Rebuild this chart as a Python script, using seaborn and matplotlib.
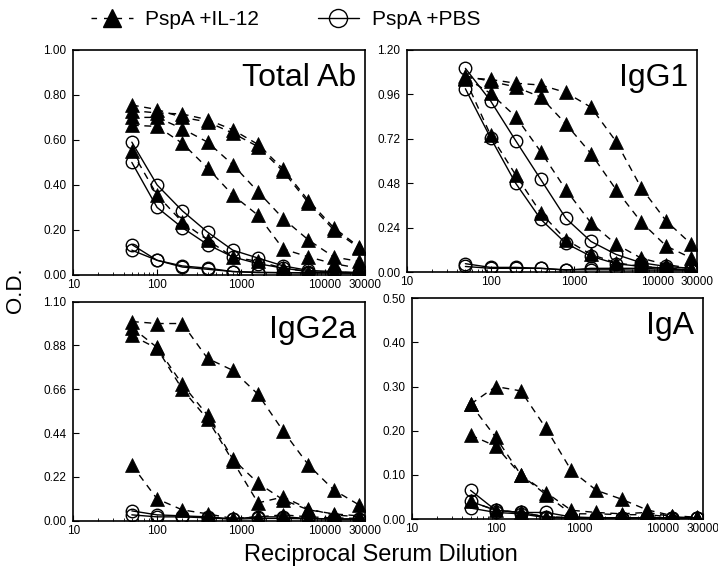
import matplotlib
matplotlib.use("Agg")
import matplotlib.pyplot as plt
import matplotlib.ticker as mticker
from matplotlib.lines import Line2D
import seaborn as sns
import pandas as pd

# ---------------------------------------------------
# Data (O.D.)
# ---------------------------------------------------

dilutions = [50, 100, 200, 400, 800, 1600, 3200, 6400, 12800, 25600]

total_il12 = [
    [0.73, 0.72, 0.715, 0.69, 0.645, 0.58, 0.47, 0.33, 0.21, 0.125],
    [0.70, 0.70, 0.65, 0.59, 0.49, 0.37, 0.25, 0.155, 0.08, 0.06],
    [0.665, 0.66, 0.585, 0.475, 0.355, 0.265, 0.115, 0.08, 0.05, 0.03],
    [0.55, 0.355, 0.235, 0.155, 0.08, 0.06, 0.03, 0.015, 0.012, 0.01],
    [0.755, 0.735, 0.70, 0.68, 0.63, 0.57, 0.46, 0.32, 0.20, 0.12],
]
total_pbs = [
    [0.59, 0.40, 0.285, 0.19, 0.11, 0.075, 0.04, 0.02, 0.015, 0.01],
    [0.50, 0.30, 0.21, 0.135, 0.08, 0.05, 0.03, 0.015, 0.01, 0.01],
    [0.135, 0.065, 0.04, 0.03, 0.015, 0.012, 0.01, 0.01, 0.01, 0.008],
    [0.11, 0.065, 0.035, 0.025, 0.015, 0.01, 0.01, 0.008, 0.008, 0.008],
]

igg1_il12 = [
    [1.05, 1.04, 1.02, 1.01, 0.97, 0.89, 0.705, 0.455, 0.275, 0.15],
    [1.06, 1.03, 1.00, 0.945, 0.80, 0.64, 0.445, 0.27, 0.14, 0.075],
    [1.05, 0.965, 0.84, 0.65, 0.445, 0.265, 0.15, 0.075, 0.04, 0.02],
    [1.04, 0.74, 0.525, 0.32, 0.175, 0.095, 0.05, 0.03, 0.02, 0.012],
]
igg1_pbs = [
    [1.10, 0.925, 0.71, 0.50, 0.29, 0.165, 0.095, 0.05, 0.03, 0.02],
    [0.99, 0.725, 0.48, 0.285, 0.155, 0.085, 0.045, 0.03, 0.02, 0.012],
    [0.045, 0.025, 0.025, 0.02, 0.01, 0.02, 0.02, 0.02, 0.015, 0.01],
    [0.03, 0.02, 0.02, 0.02, 0.012, 0.012, 0.012, 0.01, 0.01, 0.01],
]

igg2a_il12 = [
    [1.0, 0.99, 0.99, 0.815, 0.755, 0.635, 0.45, 0.28, 0.155, 0.08],
    [0.97, 0.87, 0.685, 0.53, 0.31, 0.19, 0.105, 0.055, 0.035, 0.025],
    [0.93, 0.865, 0.66, 0.51, 0.30, 0.09, 0.12, 0.06, 0.03, 0.02],
    [0.28, 0.11, 0.055, 0.035, 0.012, 0.02, 0.03, 0.02, 0.015, 0.012],
]
igg2a_pbs = [
    [0.05, 0.03, 0.025, 0.02, 0.01, 0.02, 0.02, 0.012, 0.01, 0.01],
    [0.03, 0.02, 0.02, 0.015, 0.008, 0.012, 0.012, 0.01, 0.008, 0.008],
]

iga_il12 = [
    [0.26, 0.30, 0.29, 0.205, 0.11, 0.065, 0.045, 0.021, 0.008, 0.004],
    [0.26, 0.185, 0.10, 0.06, 0.02, 0.015, 0.012, 0.015, 0.006, 0.003],
    [0.19, 0.165, 0.10, 0.055, 0.012, 0.012, 0.01, 0.01, 0.005, 0.003],
    [0.04, 0.02, 0.015, 0.005, 0.003, 0.003, 0.003, 0.003, 0.003, 0.003],
]
iga_pbs = [
    [0.065, 0.02, 0.015, 0.015, 0.005, 0.003, 0.003, 0.003, 0.003, 0.003],
    [0.04, 0.02, 0.015, 0.005, 0.003, 0.003, 0.003, 0.003, 0.003, 0.003],
    [0.025, 0.015, 0.012, 0.003, 0.003, 0.003, 0.003, 0.003, 0.003, 0.003],
]

panel_names = ["Total Ab", "IgG1", "IgG2a", "IgA"]
panel_il12 = [total_il12, igg1_il12, igg2a_il12, iga_il12]
panel_pbs = [total_pbs, igg1_pbs, igg2a_pbs, iga_pbs]
panel_ymax = [1.0, 1.2, 1.1, 0.5]

x_ticks = [10, 100, 1000, 10000, 30000]
x_ticklabels = ["10", "100", "1000", "10000", "30000"]

label_il12 = "PspA +IL-12"
label_pbs = "PspA +PBS"


def to_long(curves, group):
    rows = []
    for mouse, values in enumerate(curves):
        for d, od in zip(dilutions, values):
            rows.append({"dilution": d, "od": od, "mouse": mouse, "group": group})
    return pd.DataFrame(rows)


# ---------------------------------------------------
# Figure
# ---------------------------------------------------

sns.set_style("ticks")
plt.rcParams["font.family"] = ["Liberation Sans", "DejaVu Sans"]
plt.rcParams["text.color"] = "black"
plt.rcParams["axes.edgecolor"] = "black"
plt.rcParams["xtick.color"] = "black"
plt.rcParams["ytick.color"] = "black"
plt.rcParams["axes.labelcolor"] = "black"

fig = plt.figure(figsize=(7.18, 5.80), dpi=100)

# axes boxes in figure fractions (left, bottom, width, height)
boxes = [
    [0.102, 0.526, 0.406, 0.388],
    [0.567, 0.531, 0.404, 0.383],
    [0.102, 0.102, 0.406, 0.378],
    [0.574, 0.105, 0.405, 0.381],
]

for i, name in enumerate(panel_names):
    ax = fig.add_axes(boxes[i])

    df_il12 = to_long(panel_il12[i], label_il12)
    df_pbs = to_long(panel_pbs[i], label_pbs)

    sns.lineplot(
        data=df_pbs, x="dilution", y="od", units="mouse", estimator=None,
        ax=ax, color="black", linewidth=1.0, marker="o", markersize=9,
        markerfacecolor="none", markeredgecolor="black", markeredgewidth=1.0,
        legend=False,
    )
    sns.lineplot(
        data=df_il12, x="dilution", y="od", units="mouse", estimator=None,
        ax=ax, color="black", linewidth=1.0, linestyle=(0, (5, 4)),
        marker="^", markersize=10, markerfacecolor="black",
        markeredgecolor="black", markeredgewidth=0.5, legend=False,
    )

    ax.set_xscale("log")
    ax.set_xlim(10, 30000)
    ax.set_ylim(0, panel_ymax[i])
    ax.set_xticks(x_ticks)
    ax.set_xticklabels(x_ticklabels)
    ax.xaxis.set_minor_formatter(mticker.NullFormatter())
    ax.set_yticks([panel_ymax[i] * k / 5 for k in range(6)])
    ax.yaxis.set_major_formatter(mticker.FormatStrFormatter("%.2f"))

    ax.tick_params(axis="both", which="major", direction="in", length=4,
                   width=0.8, labelsize=8.5, pad=3)
    ax.tick_params(axis="x", which="minor", direction="in", length=2.5, width=0.6)
    ax.tick_params(axis="y", pad=5)
    for sp in ax.spines.values():
        sp.set_linewidth(1.2)
        sp.set_visible(True)

    ax.set_xlabel("")
    ax.set_ylabel("")

    ax.text(0.97, 0.94, name, transform=ax.transAxes, ha="right", va="top",
            fontsize=23)

fig.text(0.022, 0.5, "O.D.", rotation=90, ha="center", va="center", fontsize=16)
fig.text(0.53, 0.043, "Reciprocal Serum Dilution", ha="center", va="center",
         fontsize=17)

handles = [
    Line2D([], [], color="black", linewidth=1.0, linestyle=(0, (4, 5)),
           marker="^", markersize=13, markerfacecolor="black"),
    Line2D([], [], color="black", linewidth=1.0, marker="o", markersize=13,
           markerfacecolor="none", markeredgecolor="black"),
]
fig.legend(handles, [label_il12, label_pbs], loc="upper center",
           bbox_to_anchor=(0.398, 1.015), ncol=2, frameon=False, fontsize=15,
           handlelength=2.0, columnspacing=2.8, handletextpad=0.6)

fig.savefig("out.png", dpi=100)
